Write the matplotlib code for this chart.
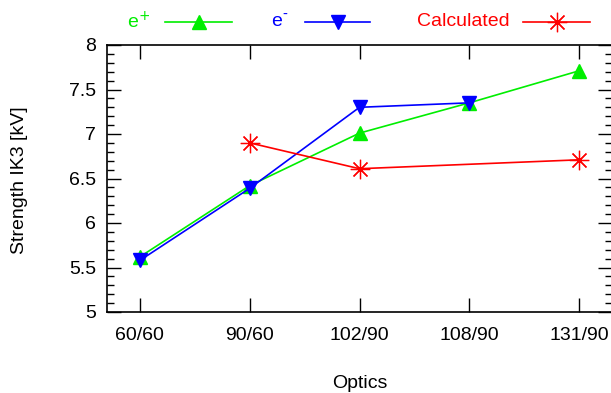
import matplotlib
matplotlib.use("Agg")
import matplotlib.pyplot as plt
from matplotlib.lines import Line2D
from matplotlib.ticker import MultipleLocator, FormatStrFormatter

plt.rcParams['font.family'] = ['Liberation Sans', 'DejaVu Sans']

optics = ['60/60', '90/60', '102/90', '108/90', '131/90']
e_plus = [5.62, 6.42, 7.01, 7.35, 7.71]
e_minus = [5.58, 6.39, 7.30, 7.35]
calc_idx = [1, 2, 4]
calculated = [6.90, 6.61, 6.71]

W, H = 611, 393
GREEN, BLUE, RED = '#00ee00', '#0000ff', '#ff0000'
FS = 14

fig = plt.figure(figsize=(W / 100, H / 100), dpi=100)
ax = fig.add_axes([107 / W, 1 - 312 / H, (612 - 107) / W, (312 - 45) / H])

x = list(range(len(optics)))
styles = [
    dict(color=GREEN, marker='^', ms=10),
    dict(color=BLUE, marker='v', ms=10),
    dict(color=RED, marker=(8, 2, 0), ms=14, mew=0.9),
]
ax.plot(x, e_plus, lw=1.2, **styles[0])
ax.plot(x[:len(e_minus)], e_minus, lw=1.2, **styles[1])
ax.plot(calc_idx, calculated, lw=1.2, **styles[2])

ax.set_xlim(-0.3, 4.3)
ax.set_ylim(5, 8)
ax.set_xticks(x)
ax.set_xticklabels(optics)
ax.yaxis.set_major_locator(MultipleLocator(0.5))
ax.yaxis.set_minor_locator(MultipleLocator(0.1))
ax.yaxis.set_major_formatter(FormatStrFormatter('%g'))
ax.tick_params(axis='both', which='major', direction='in', length=10, width=1,
               top=True, right=True, labelsize=FS, pad=8)
ax.tick_params(axis='x', which='major', pad=11)
ax.tick_params(axis='y', which='minor', direction='in', length=5, width=1, right=True)
for s in ax.spines.values():
    s.set_linewidth(1.2)

fig.text(360 / W, 1 - 384 / H, 'Optics', fontsize=FS, ha='center', va='center')
fig.text(20 / W, 1 - 180 / H, 'Strength IK3 [kV]', fontsize=FS, ha='center', va='center',
         rotation=90)

# gnuplot-style key above the plot: label, then line sample with marker
key = [
    ('e$^{+}$', 150, 165, 232, styles[0]),
    ('e$^{\\text{-}}$', 288, 305, 370, styles[1]),
    ('Calculated', 510, 523, 590, styles[2]),
]
ky = 1 - 22 / H
for label, tx, x0, x1, st in key:
    fig.text(tx / W, ky, label, fontsize=FS, color=st['color'], ha='right', va='center')
    fig.add_artist(Line2D([x0 / W, x1 / W], [ky, ky], transform=fig.transFigure,
                          color=st['color'], lw=1.2))
    fig.add_artist(Line2D([(x0 + x1) / 2 / W], [ky], transform=fig.transFigure,
                          ls='none', **st))

fig.savefig('out.png', dpi=100)
